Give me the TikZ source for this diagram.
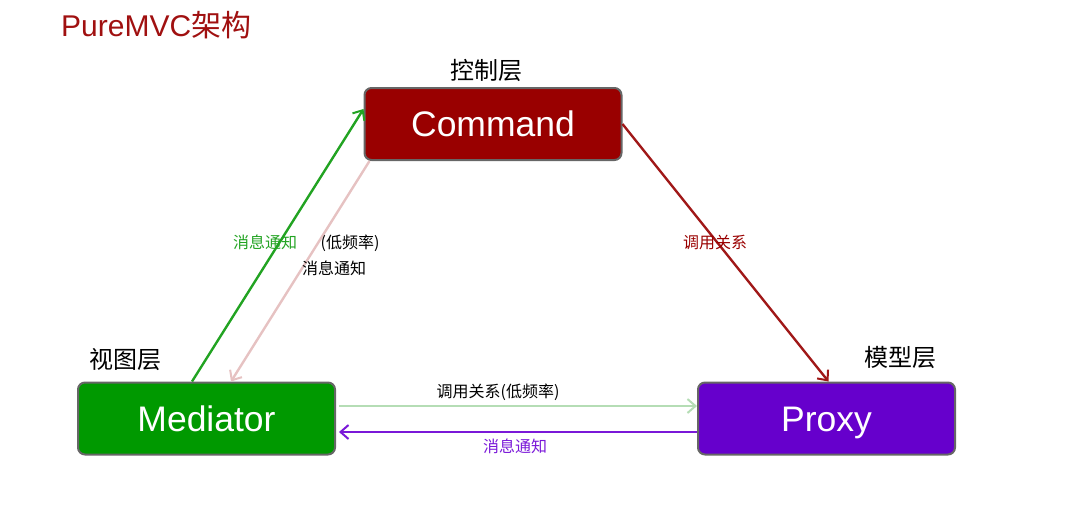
\documentclass[tikz,border=0pt]{standalone}
\usepackage{fontspec}
\setmainfont{Liberation Sans}
\newfontfamily\cjk{Noto Sans CJK SC}
\usetikzlibrary{arrows.meta,calc}
\definecolor{cmdred}{HTML}{990000}
\definecolor{medgreen}{HTML}{009900}
\definecolor{proxpurple}{HTML}{6600CC}
\definecolor{titlered}{HTML}{A01010}
\definecolor{arrgreen}{HTML}{22A322}
\definecolor{arrpink}{HTML}{E6C2C2}
\definecolor{arrdred}{HTML}{A01818}
\definecolor{arrlgreen}{HTML}{B5DDB5}
\definecolor{arrpurple}{HTML}{7A18D8}
\begin{document}
\begin{tikzpicture}[x=1pt,y=-1pt,
  box/.style={draw=black!60,line width=2pt,rounded corners=7pt,minimum width=257pt,minimum height=72pt,inner sep=0pt,text=white,font=\fontsize{35.5}{38}\selectfont,text height=25pt,text depth=0pt},
  layer/.style={font=\cjk\fontsize{24}{26}\selectfont,text=black},
  lbl/.style={font=\cjk\fontsize{16}{18}\selectfont,inner sep=0pt},
  conn/.style={line width=2.4pt,-{Straight Barb[length=8pt,width=14pt,line width=2pt]}}
]
\useasboundingbox (0,0) rectangle (1069,504);
\node[anchor=west,text=titlered,inner sep=0pt] (title) at (61,25) {\fontsize{30}{32}\selectfont PureMVC{\cjk 架构}};
\node[box,fill=cmdred] (cmd) at (493,124) {Command};
\node[box,fill=medgreen] (med) at (206.5,418.5) {Mediator};
\node[box,fill=proxpurple] (prox) at (826.5,418.5) {Proxy};
\node[layer] (lc) at (486,70) {控制层};
\node[layer] (lv) at (125,360) {视图层};
\node[layer] (lm) at (900,357) {模型层};
% connectors
\draw[conn,arrgreen] ([xshift=115pt]med.north west) -- ([yshift=-22pt]cmd.north west);
\draw[conn,arrpink] ([xshift=6pt]cmd.south west) -- ([xshift=154pt]med.north west);
\draw[conn,arrdred] (cmd.east) -- ([xshift=2pt]prox.north);
\draw[conn,arrlgreen,shorten <=3pt] ([yshift=12.5pt]med.east) -- ([yshift=12.5pt]prox.west);
\draw[conn,arrpurple,shorten >=3pt] ([yshift=-13.5pt]prox.west) -- ([yshift=-13.5pt]med.east);
% labels
\node[lbl,text=arrgreen] (l1) at (265,242) {消息通知};
\node[lbl,text=black] (l2) at (350,243) {(低频率)};
\node[lbl,text=black] (l3) at (334,268) {消息通知};
\node[lbl,text=cmdred] (l4) at (715,242) {调用关系};
\node[lbl,text=black] (l5) at (498,392) {调用关系(低频率)};
\node[lbl,text=arrpurple] (l6) at (515,446) {消息通知};
\end{tikzpicture}
\end{document}
